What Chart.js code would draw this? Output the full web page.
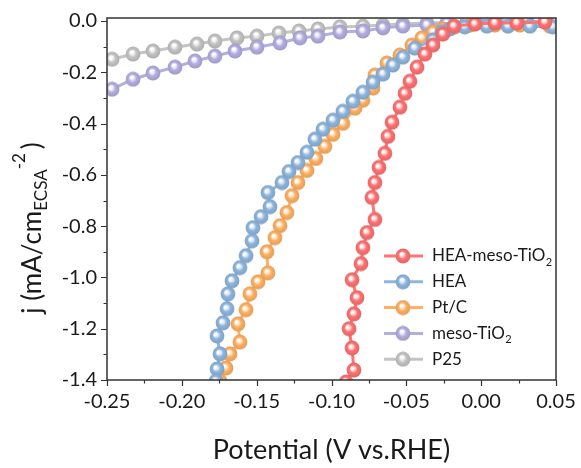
<!DOCTYPE html>
<html>
<head>
<meta charset="utf-8">
<script src="https://cdn.jsdelivr.net/npm/chart.js@4/dist/chart.umd.min.js"></script>
<style>
  html, body { margin: 0; padding: 0; background: #fff; }
  #wrap { width: 581px; height: 468px; }
</style>
</head>
<body>
<div id="wrap"><canvas id="lsv" width="581" height="468"></canvas></div>
<script>
// ── data (potential in V vs RHE, j in mA/cm2 ECSA) ──

var xTicks = [-0.25, -0.20, -0.15, -0.10, -0.05, 0.00, 0.05];
var yTicks = [0.0, -0.2, -0.4, -0.6, -0.8, -1.0, -1.2, -1.4];

var seriesNames = ['HEA-meso-TiO2', 'HEA', 'Pt/C', 'meso-TiO2', 'P25'];
var seriesColors = ['#ff7373', '#8fb6de', '#ffb163', '#b3aee0', '#c4c4c4'];

var xHeaTi = [0.0426, 0.0239, 0.0092, -0.0042, -0.0182, -0.0256, -0.0322, -0.0376, -0.0429, -0.0476, -0.0509, -0.0543, -0.0596, -0.0623, -0.0643, -0.0683, -0.0710, -0.0730, -0.0710, -0.0763, -0.0790, -0.0803, -0.0863, -0.0830, -0.0850, -0.0883, -0.0863, -0.0850, -0.0903];
var jHeaTi = [-0.004, -0.008, -0.008, -0.012, -0.020, -0.051, -0.094, -0.129, -0.180, -0.235, -0.282, -0.336, -0.395, -0.450, -0.516, -0.571, -0.630, -0.688, -0.774, -0.825, -0.884, -0.946, -1.009, -1.079, -1.142, -1.200, -1.275, -1.361, -1.408];

var xHea = [0.0479, 0.0326, 0.0179, 0.0038, -0.0109, -0.0209, -0.0262, -0.0322, -0.0443, -0.0523, -0.0590, -0.0656, -0.0723, -0.0790, -0.0857, -0.0924, -0.0990, -0.1057, -0.1111, -0.1164, -0.1224, -0.1284, -0.1331, -0.1425, -0.1411, -0.1471, -0.1525, -0.1531, -0.1571, -0.1612, -0.1665, -0.1692, -0.1698, -0.1725, -0.1765, -0.1745, -0.1765, -0.1772];
var jHea = [-0.023, -0.020, -0.020, -0.020, -0.023, -0.031, -0.043, -0.074, -0.106, -0.141, -0.172, -0.207, -0.239, -0.278, -0.313, -0.352, -0.387, -0.422, -0.461, -0.512, -0.552, -0.587, -0.630, -0.669, -0.724, -0.763, -0.806, -0.857, -0.915, -0.962, -1.013, -1.064, -1.122, -1.177, -1.228, -1.298, -1.357, -1.404];

var xPtC = [0.0459, 0.0259, 0.0092, -0.0075, -0.0176, -0.0256, -0.0322, -0.0396, -0.0463, -0.0543, -0.0630, -0.0710, -0.0723, -0.0790, -0.0843, -0.0924, -0.0990, -0.1044, -0.1104, -0.1164, -0.1224, -0.1264, -0.1298, -0.1344, -0.1378, -0.1431, -0.1425, -0.1491, -0.1545, -0.1571, -0.1625, -0.1612, -0.1678, -0.1705, -0.1745];
var jPtC = [-0.020, -0.016, -0.016, -0.016, -0.023, -0.031, -0.043, -0.066, -0.094, -0.133, -0.164, -0.211, -0.262, -0.309, -0.340, -0.399, -0.442, -0.489, -0.536, -0.583, -0.630, -0.681, -0.747, -0.798, -0.845, -0.900, -0.982, -1.017, -1.064, -1.126, -1.181, -1.252, -1.298, -1.353, -1.404];

var xMesoTi = [-0.2466, -0.2326, -0.2193, -0.2046, -0.1912, -0.1779, -0.1645, -0.1498, -0.1344, -0.1211, -0.1091, -0.0944, -0.0790, -0.0656, -0.0523, -0.0362, -0.0229, -0.0095, 0.0038, 0.0172, 0.0306, 0.0439];
var jMesoTi = [-0.266, -0.227, -0.203, -0.180, -0.156, -0.137, -0.117, -0.102, -0.086, -0.066, -0.059, -0.043, -0.039, -0.027, -0.020, -0.016, -0.010, -0.006, -0.004, -0.004, -0.004, -0.004];

var xP25 = [-0.2466, -0.2326, -0.2193, -0.2046, -0.1899, -0.1779, -0.1632, -0.1498, -0.1351, -0.1217, -0.1091, -0.0944, -0.0790, -0.0656, -0.0523, -0.0362, -0.0229, -0.0095, 0.0038, 0.0172, 0.0306, 0.0439];
var jP25 = [-0.149, -0.129, -0.117, -0.102, -0.090, -0.078, -0.066, -0.059, -0.047, -0.039, -0.031, -0.023, -0.020, -0.016, -0.012, -0.008, -0.006, -0.004, -0.002, -0.002, -0.002, -0.002];

var FONT = 'Lato, "Open Sans", sans-serif';

function pts(xs, ys) {
  var out = [];
  for (var i = 0; i < xs.length; i++) out.push({ x: xs[i], y: ys[i] });
  return out;
}

// shaded ball marker, like the Origin "sphere" symbol
function shade(hex, k) {
  var n = parseInt(hex.slice(1), 16);
  var r = (n >> 16) & 255, g = (n >> 8) & 255, b = n & 255;
  return 'rgb(' + Math.round(r * k) + ',' + Math.round(g * k) + ',' + Math.round(b * k) + ')';
}

function ball(color) {
  var c = document.createElement('canvas');
  c.width = 16; c.height = 16;
  var g = c.getContext('2d');
  var grd = g.createRadialGradient(6.8, 6.2, 0.3, 8, 8, 7.6);
  grd.addColorStop(0, 'rgba(255,255,255,1)');
  grd.addColorStop(0.2, 'rgba(255,255,255,0.75)');
  grd.addColorStop(0.48, color);
  grd.addColorStop(1, shade(color, 0.88));
  g.fillStyle = grd;
  g.beginPath();
  g.arc(8, 8, 7.4, 0, Math.PI * 2);
  g.fill();
  return c;
}

var balls = seriesColors.map(ball);
var seriesData = [pts(xHeaTi, jHeaTi), pts(xHea, jHea), pts(xPtC, jPtC), pts(xMesoTi, jMesoTi), pts(xP25, jP25)];

var datasets = seriesNames.map(function(name, i) {
  return {
    label: name,
    data: seriesData[i],
    borderColor: seriesColors[i],
    backgroundColor: seriesColors[i],
    borderWidth: 3,
    pointStyle: balls[i],
    pointRadius: 8,
    tension: 0,
    clip: 0
  };
});

// frame, tick marks, axis titles and legend are drawn by hand
var decor = {
  id: 'decor',
  afterDatasetsDraw: function(chart) {
    var ctx = chart.ctx, a = chart.chartArea;
    var xs = chart.scales.x, ys = chart.scales.y;
    ctx.save();

    ctx.strokeStyle = '#333';
    ctx.lineWidth = 1.5;
    ctx.strokeRect(a.left, a.top, a.right - a.left, a.bottom - a.top);

    ctx.lineWidth = 1.2;
    ctx.beginPath();
    for (var i = 0; i <= 12; i++) {
      var xv = -0.25 + i * 0.025;
      var px = Math.round(xs.getPixelForValue(xv)) + 0.5;
      ctx.moveTo(px, a.bottom);
      ctx.lineTo(px, a.bottom + (i % 2 === 0 ? 6 : 3.5));
    }
    for (var j = 0; j <= 14; j++) {
      var yv = -j * 0.1;
      var py = Math.round(ys.getPixelForValue(yv)) + 0.5;
      ctx.moveTo(a.left, py);
      ctx.lineTo(a.left - (j % 2 === 0 ? 6 : 3.5), py);
    }
    ctx.stroke();

    // x title
    ctx.fillStyle = '#1a1a1a';
    ctx.font = '27px ' + FONT;
    ctx.textAlign = 'center';
    ctx.textBaseline = 'alphabetic';
    ctx.fillText('Potential (V vs.RHE)', (a.left + a.right) / 2, 459);

    // y title: j (mA/cm_ECSA^-2)
    var big = '26px ' + FONT, small = '17px ' + FONT;
    ctx.font = big;
    var w1 = ctx.measureText('j (mA/cm').width;
    var w4 = ctx.measureText(')').width;
    ctx.font = small;
    var w2 = ctx.measureText('ECSA').width;
    var w3 = ctx.measureText('-2').width;
    var total = w1 + w2 + w3 + 4 + w4;
    ctx.translate(41, 228 + total / 2);
    ctx.rotate(-Math.PI / 2);
    ctx.textAlign = 'left';
    ctx.font = big;
    ctx.fillText('j (mA/cm', 0, 0);
    ctx.font = small;
    ctx.fillText('ECSA', w1, 6);
    ctx.fillText('-2', w1 + w2, -16);
    ctx.font = big;
    ctx.fillText(')', w1 + w2 + w3 + 4, 0);
    ctx.setTransform(1, 0, 0, 1, 0, 0);

    // legend
    var ly0 = 256, step = 25.8;
    for (var k = 0; k < seriesNames.length; k++) {
      var ly = ly0 + k * step;
      ctx.strokeStyle = seriesColors[k];
      ctx.lineWidth = 3;
      ctx.beginPath();
      ctx.moveTo(384, ly);
      ctx.lineTo(423, ly);
      ctx.stroke();
      ctx.drawImage(balls[k], 403 - 8, ly - 8);
      ctx.fillStyle = '#1a1a1a';
      ctx.textBaseline = 'middle';
      ctx.textAlign = 'left';
      var name = seriesNames[k];
      if (name.slice(-4) === 'TiO2') {
        var head = name.slice(0, -1);
        ctx.font = '17px ' + FONT;
        ctx.fillText(head, 432, ly);
        var hw = ctx.measureText(head).width;
        ctx.font = '11px ' + FONT;
        ctx.fillText('2', 432 + hw + 0.5, ly + 6);
      } else {
        ctx.font = '17px ' + FONT;
        ctx.fillText(name, 432, ly);
      }
    }
    ctx.restore();
  }
};

new Chart(document.getElementById('lsv'), {
  type: 'line',
  data: { datasets: datasets },
  options: {
    responsive: false,
    animation: false,
    devicePixelRatio: 1,
    layout: { padding: { left: 0, top: 18, right: 25, bottom: 0 } },
    plugins: {
      legend: { display: false },
      tooltip: { enabled: false }
    },
    scales: {
      x: {
        type: 'linear',
        min: -0.25,
        max: 0.05,
        grid: { display: false, drawTicks: false },
        border: { display: false },
        afterBuildTicks: function(s) { s.ticks = xTicks.map(function(v) { return { value: v }; }); },
        afterFit: function(s) { s.height = 88; s.paddingLeft = 0; s.paddingRight = 0; },
        ticks: {
          padding: 10,
          color: '#1a1a1a',
          font: { family: FONT, size: 20 },
          maxRotation: 0,
          autoSkip: false,
          callback: function(v) { return v.toFixed(2); }
        }
      },
      y: {
        type: 'linear',
        min: -1.4,
        max: 0.0117,
        grid: { display: false, drawTicks: false },
        border: { display: false },
        afterBuildTicks: function(s) { s.ticks = yTicks.map(function(v) { return { value: v }; }); },
        afterFit: function(s) { s.width = 107; s.paddingTop = 0; s.paddingBottom = 0; },
        ticks: {
          padding: 10,
          color: '#1a1a1a',
          font: { family: FONT, size: 20 },
          autoSkip: false,
          callback: function(v) { return v.toFixed(1); }
        }
      }
    }
  },
  plugins: [decor]
});
</script>
</body>
</html>
